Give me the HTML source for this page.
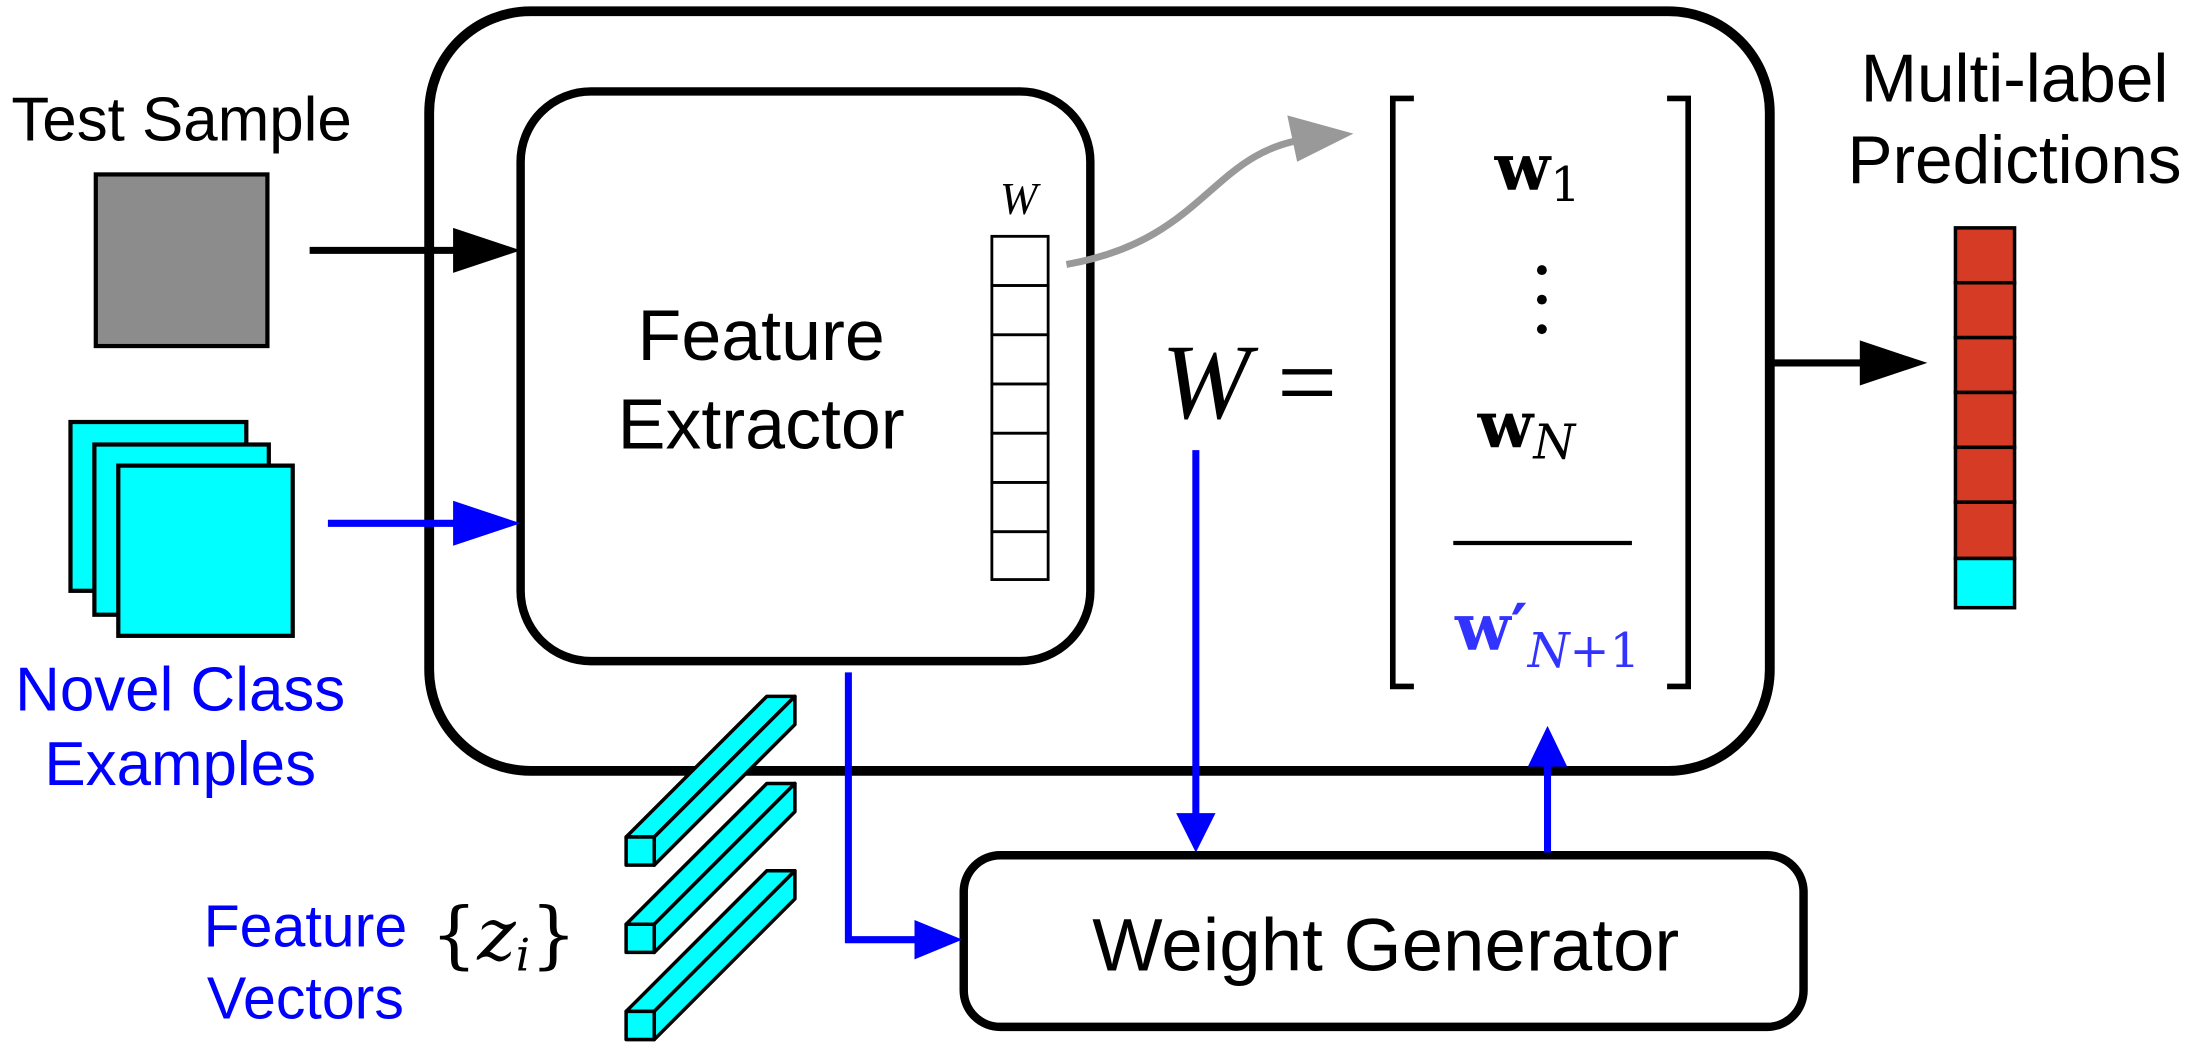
<!DOCTYPE html>
<html><head><meta charset="utf-8"><style>html,body{margin:0;padding:0;background:#fff}svg{display:block}</style></head>
<body>
<svg width="2206" height="1048" viewBox="0 0 1568 745" xmlns="http://www.w3.org/2000/svg" font-family="Liberation Sans, sans-serif">
<rect x="305" y="8" width="953" height="540" rx="72" fill="none" stroke="#000" stroke-width="7"/>
<rect x="370" y="65" width="405" height="405" rx="50" fill="none" stroke="#000" stroke-width="6"/>
<text x="541" y="256" font-size="51" text-anchor="middle">Feature</text>
<text x="541" y="319" font-size="51" text-anchor="middle">Extractor</text>
<text x="724" y="152" font-size="32" font-style="italic" font-family="Liberation Serif, serif" text-anchor="middle">W</text>
<g fill="#fff" stroke="#000" stroke-width="2">
<rect x="705" y="168" width="40" height="35"/><rect x="705" y="203" width="40" height="35"/><rect x="705" y="238" width="40" height="35"/><rect x="705" y="273" width="40" height="35"/><rect x="705" y="308" width="40" height="35"/><rect x="705" y="343" width="40" height="35"/><rect x="705" y="378" width="40" height="34"/>
</g>
<text x="129" y="100" font-size="44" text-anchor="middle">Test Sample</text>
<rect x="68" y="124" width="122" height="122" fill="#8c8c8c" stroke="#000" stroke-width="3"/>
<line x1="220" y1="178" x2="330" y2="178" stroke="#000" stroke-width="5"/>
<path d="M322,162 L370,178 L322,194 z" fill="#000"/>
<g fill="#00ffff" stroke="#000" stroke-width="3">
<rect x="50" y="300" width="125" height="120"/><rect x="67" y="316" width="124" height="121"/><rect x="84" y="331" width="124" height="121"/>
</g>
<line x1="233" y1="372" x2="330" y2="372" stroke="#0000ff" stroke-width="5"/>
<path d="M322,356 L370,372 L322,388 z" fill="#0000ff"/>
<text x="128" y="505" font-size="44" fill="#0000ff" text-anchor="middle">Novel Class</text>
<text x="128" y="558" font-size="44" fill="#0000ff" text-anchor="middle">Examples</text>
<path d="M758,188 C860,170 860,105 935,98" fill="none" stroke="#999" stroke-width="5"/>
<path d="M915,82 L962,95 L922,115 z" fill="#999"/>
<text x="888" y="297" font-size="76" font-style="italic" font-family="Liberation Serif, serif" text-anchor="middle">W <tspan font-style="normal">=</tspan></text>
<g stroke="#000" stroke-width="4" fill="none">
<path d="M1005,70 L990,70 L990,488 L1005,488"/><path d="M1185,70 L1200,70 L1200,488 L1185,488"/>
<line x1="1033" y1="386" x2="1160" y2="386" stroke-width="3"/>
</g>
<text x="1093" y="135" font-size="46" font-family="DejaVu Serif, serif" font-weight="bold" text-anchor="middle">w<tspan font-weight="normal" font-size="34" dy="8">1</tspan></text>
<g fill="#000"><circle cx="1096" cy="192" r="3.5"/><circle cx="1096" cy="213" r="3.5"/><circle cx="1096" cy="234" r="3.5"/></g>
<text x="1085" y="318" font-size="46" font-family="DejaVu Serif, serif" font-weight="bold" text-anchor="middle">w<tspan font-weight="normal" font-style="italic" font-size="34" dy="8">N</tspan></text>
<text x="1100" y="462" font-size="46" fill="#3333ff" font-family="DejaVu Serif, serif" font-weight="bold" text-anchor="middle">w′<tspan font-weight="normal" font-style="italic" font-size="34" dy="12">N</tspan><tspan font-weight="normal" font-size="34">+1</tspan></text>
<line x1="850" y1="320" x2="850" y2="590" stroke="#0000ff" stroke-width="5"/>
<path d="M836,578 L850,606 L864,578 z" fill="#0000ff"/>
<rect x="685" y="608" width="597" height="122" rx="26" fill="#fff" stroke="#000" stroke-width="6"/>
<text x="985" y="690" font-size="53" text-anchor="middle">Weight Generator</text>
<line x1="1100" y1="606" x2="1100" y2="530" stroke="#0000ff" stroke-width="5"/>
<path d="M1086,545 L1100,516 L1114,545 z" fill="#0000ff"/>
<path d="M603,478 L603,668 L665,668" fill="none" stroke="#0000ff" stroke-width="5"/>
<path d="M650,654 L684,668 L650,682 z" fill="#0000ff"/>
<line x1="1258" y1="258" x2="1330" y2="258" stroke="#000" stroke-width="5"/>
<path d="M1322,242 L1370,258 L1322,274 z" fill="#000"/>
<g stroke="#000" stroke-width="2.5">
<rect x="1390" y="162" width="42" height="39" fill="#d63c25"/><rect x="1390" y="201" width="42" height="39" fill="#d63c25"/><rect x="1390" y="240" width="42" height="39" fill="#d63c25"/><rect x="1390" y="279" width="42" height="39" fill="#d63c25"/><rect x="1390" y="318" width="42" height="39" fill="#d63c25"/><rect x="1390" y="357" width="42" height="40" fill="#d63c25"/><rect x="1390" y="397" width="42" height="35" fill="#00ffff"/>
</g>
<text x="1432" y="72" font-size="48" text-anchor="middle">Multi-label</text>
<text x="1432" y="130" font-size="48" text-anchor="middle">Predictions</text>
<g fill="#00ffff" stroke="#000" stroke-width="2.5" stroke-linejoin="round">
<g><path d="M445,595 L545,495 L565,495 L465,595 z"/><path d="M465,595 L565,495 L565,515 L465,615 z"/><rect x="445" y="595" width="20" height="20"/></g>
<g transform="translate(0,62)"><path d="M445,595 L545,495 L565,495 L465,595 z"/><path d="M465,595 L565,495 L565,515 L465,615 z"/><rect x="445" y="595" width="20" height="20"/></g>
<g transform="translate(0,124)"><path d="M445,595 L545,495 L565,495 L465,595 z"/><path d="M465,595 L565,495 L565,515 L465,615 z"/><rect x="445" y="595" width="20" height="20"/></g>
</g>
<text x="217" y="673" font-size="42" fill="#0000ff" text-anchor="middle">Feature</text>
<text x="217" y="724" font-size="42" fill="#0000ff" text-anchor="middle">Vectors</text>
<text x="358" y="682" font-size="52" font-family="DejaVu Serif, serif" text-anchor="middle">{<tspan font-style="italic">z</tspan><tspan font-size="32" font-style="italic" dy="8">i</tspan><tspan dy="-8">}</tspan></text>
</svg>
</body></html>
